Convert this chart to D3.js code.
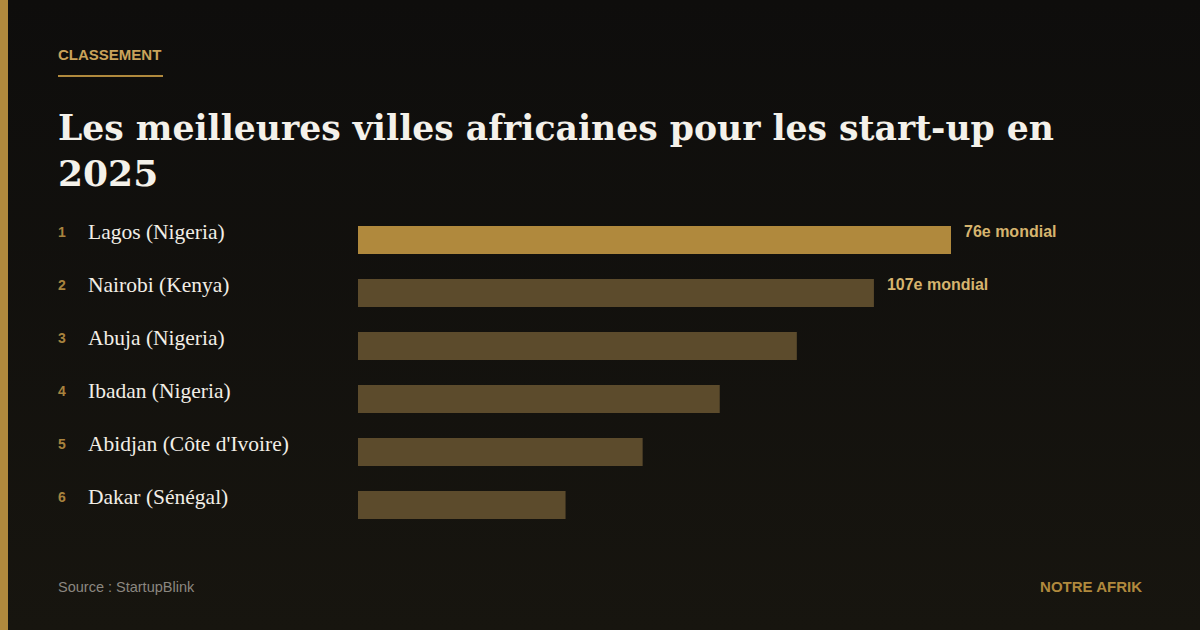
<!DOCTYPE html>
<html>
<head>
<meta charset="utf-8">
<script src="https://cdn.jsdelivr.net/npm/d3@7"></script>
<style>
  html, body { margin: 0; padding: 0; background: #111; }
  svg { display: block; }
</style>
</head>
<body>
<div id="chart"></div>
<script>
// DATA
const ranks = [1, 2, 3, 4, 5, 6];
const cities = ["Lagos (Nigeria)", "Nairobi (Kenya)", "Abuja (Nigeria)", "Ibadan (Nigeria)", "Abidjan (Côte d'Ivoire)", "Dakar (Sénégal)"];
const scores = [100, 87, 74, 61, 48, 35];
const worldRank = ["76e mondial", "107e mondial", "", "", "", ""];

const W = 1200, H = 630;
const gold = "#b0893d";
const sans = "Liberation Sans, Arial, sans-serif";

const svg = d3.select("#chart").append("svg").attr("width", W).attr("height", H);

const defs = svg.append("defs");
const grad = defs.append("linearGradient").attr("id", "bg").attr("x1", 0).attr("y1", 0).attr("x2", 0).attr("y2", 1);
grad.append("stop").attr("offset", "0%").attr("stop-color", "#0e0d0c");
grad.append("stop").attr("offset", "100%").attr("stop-color", "#17150f");

svg.append("rect").attr("width", W).attr("height", H).attr("fill", "url(#bg)");
svg.append("rect").attr("width", 8).attr("height", H).attr("fill", gold);

// HEADER
svg.append("text").attr("x", 58).attr("y", 60)
  .attr("font-family", sans).attr("font-weight", "bold")
  .attr("font-size", 15).attr("fill", "#c9a25a").text("CLASSEMENT");
svg.append("rect").attr("x", 58).attr("y", 75).attr("width", 105).attr("height", 2).attr("fill", gold);

const title = svg.append("text").attr("font-family", "DejaVu Serif, Georgia, serif")
  .attr("font-weight", "bold").attr("font-size", 36).attr("fill", "#f4f1ea");
title.append("tspan").attr("x", 58).attr("y", 140).attr("textLength", 996).attr("lengthAdjust", "spacingAndGlyphs")
  .text("Les meilleures villes africaines pour les start-up en");
title.append("tspan").attr("x", 58).attr("y", 186).text("2025");

// SCALES
const x = d3.scaleLinear().domain([0, 100]).range([0, 593]);
const y = d3.scaleBand().domain(ranks).range([226, 226 + 53 * 6 - 25]).paddingInner(25 / 53).paddingOuter(0);

const rows = svg.selectAll(".row").data(ranks).enter().append("g").attr("class", "row");

rows.append("rect")
  .attr("x", 358)
  .attr("y", d => y(d))
  .attr("width", (d, i) => x(scores[i]))
  .attr("height", y.bandwidth())
  .attr("fill", (d, i) => i === 0 ? gold : "#5c4b2c");

rows.append("text")
  .attr("x", 58).attr("y", d => y(d) + 11)
  .attr("font-family", sans).attr("font-weight", "bold")
  .attr("font-size", 14).attr("fill", "#a8833e")
  .text(d => d);

rows.append("text")
  .attr("x", 88).attr("y", d => y(d) + 13)
  .attr("font-family", "Liberation Serif, Georgia, serif")
  .attr("font-size", 21.5).attr("fill", "#f2eee6")
  .text((d, i) => cities[i]);

rows.append("text")
  .attr("x", (d, i) => 358 + x(scores[i]) + 13)
  .attr("y", d => y(d) + 11)
  .attr("font-family", sans).attr("font-weight", "bold")
  .attr("font-size", 16).attr("fill", "#d6b46e")
  .text((d, i) => worldRank[i]);

// FOOTER
svg.append("text").attr("x", 58).attr("y", 592)
  .attr("font-family", sans)
  .attr("font-size", 14.5).attr("fill", "#8b8780").text("Source : StartupBlink");
svg.append("text").attr("x", 1142).attr("y", 592).attr("text-anchor", "end")
  .attr("font-family", sans).attr("font-weight", "bold")
  .attr("font-size", 15).attr("fill", gold).text("NOTRE AFRIK");
</script>
</body>
</html>
